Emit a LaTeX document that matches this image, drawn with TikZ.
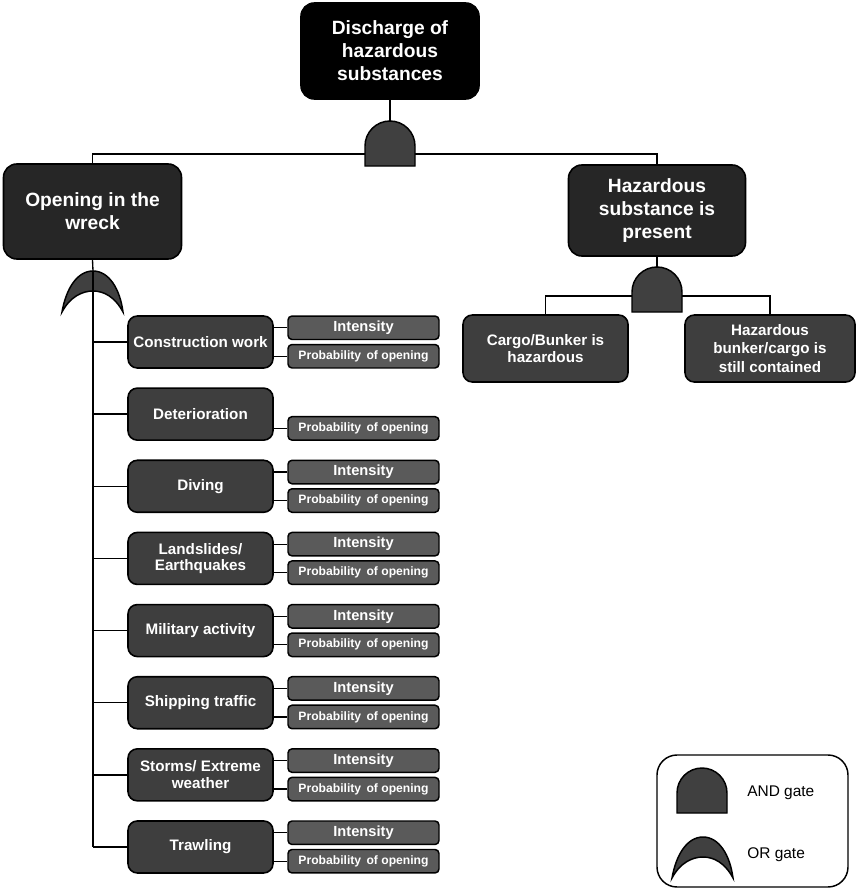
\documentclass[tikz,border=0pt]{standalone}
\usepackage{fontspec}
\setmainfont{Liberation Sans}
\begin{document}
\begin{tikzpicture}[x=0.75pt,y=-0.75pt,
  conn/.style={draw=black,line width=1pt},
  bigbox/.style={draw=black,line width=1.2pt,rounded corners=10pt,text=white,align=center,inner sep=0pt,
     font=\bfseries\fontsize{14.4}{17.25}\selectfont},
  midbox/.style={draw=black,line width=1.2pt,fill=midgray,rounded corners=7pt,text=white,align=center,inner sep=0pt,
     font=\bfseries\fontsize{11.4}{13}\selectfont},
  colbox/.style={midbox,minimum width=108.75pt,minimum height=39pt},
  subbox/.style={draw=black,line width=1.1pt,fill=lightgray2,rounded corners=3pt,text=white,inner sep=0pt,
     minimum width=113.25pt,minimum height=17.6pt},
  intbox/.style={subbox,font=\bfseries\fontsize{11}{12}\selectfont},
  probbox/.style={subbox,font=\bfseries\fontsize{9.1}{10}\selectfont},
  gatefill/.style={draw=black,line width=1.1pt,fill=gatecol},
  andgate/.pic={\path[gatefill] (-25,45) -- (-25,25) arc[start angle=180,end angle=0,radius=18.75pt] -- (25,45) -- cycle;},
  orgate/.pic={\path[gatefill] (-31,41) .. controls (-27,18) and (-16,0) .. (0,0) .. controls (16,0) and (27,18) .. (30,41)
      .. controls (22,26) and (11,20) .. (0,20) .. controls (-11,20) and (-23,26) .. (-31,41) -- cycle;}
]
\definecolor{midgray}{HTML}{3E3E3E}
\definecolor{lightgray2}{HTML}{5A5A5A}
\definecolor{gatecol}{HTML}{404040}
\definecolor{darkbox}{HTML}{262626}
\useasboundingbox (0,0) rectangle (856,892);

% top level
\node[bigbox,fill=black,minimum width=133.5pt,minimum height=72pt] (top) at (390,51) {Discharge of\\hazardous\\substances};
\node[bigbox,fill=darkbox,minimum width=133.5pt,minimum height=71.25pt] (open) at (92.5,211.5) {Opening in the\\wreck};
\node[bigbox,fill=darkbox,minimum width=132.75pt,minimum height=68.25pt] (haz) at (657,210.5) {Hazardous\\substance is\\present};
\node[midbox,minimum width=123.75pt,minimum height=50.25pt] (cargo) at (545.5,348.5) {Cargo/Bunker is\\hazardous};
\node[midbox,minimum width=127.5pt,minimum height=50.25pt,font=\bfseries\fontsize{11.4}{14}\selectfont] (bunk) at (770,348.5) {Hazardous\\bunker/cargo is\\still contained};

\coordinate (g1) at (390,121);
\coordinate (bus1) at (390,154);
\coordinate (g2) at (657,267);
\coordinate (bus2) at (657,296);
\coordinate (or1) at (93,271);

\draw[conn] (top.south) -- (g1);
\draw[conn] (open.north) |- (bus1) -| (haz.north);
\draw[conn] (haz.south) -- (g2);
\draw[conn] (cargo.north) |- (bus2) -| (bunk.north);
\draw[conn] (open.south) -- (or1);
\pic at (g1) {andgate};
\pic at (g2) {andgate};
\pic at (or1) {orgate};

% left column
\foreach \i/\name/\txt/\hasint/\ls in {0/cw/Construction work/1/13,1/det/Deterioration/0/13,2/div/Diving/1/13,
   3/land/{Landslides/\\Earthquakes}/1/12,4/mil/Military activity/1/13,5/ship/Shipping traffic/1/13,
   6/storm/{Storms/ Extreme\\weather}/1/13,7/trawl/Trawling/1/13}{
  \pgfmathsetmacro{\ty}{316+72.14*\i}
  \node[colbox,font=\bfseries\fontsize{11.4}{\ls}\selectfont] (\name) at (200.5,\ty+26) {\txt};
  \node[probbox] (\name p) at (363.5,\ty+40.25) {Probability\, of opening};
  \draw[conn] (\name.east |- \name p.west) -- (\name p.west);
  \ifnum\hasint=1
    \node[intbox] (\name i) at (363.5,\ty+11.75) {Intensity};
    \draw[conn] (\name.east |- \name i.west) -- (\name i.west);
  \fi
  \draw[conn] (\name.west -| or1) -- (\name.west);
}
\draw[conn] (or1) -- (trawl.west -| or1);

% legend
\node[draw=black,line width=1.1pt,rounded corners=15pt,minimum width=143.25pt,minimum height=99pt,inner sep=0pt] (leg) at (752.5,821) {};
\coordinate (lga) at (702,768);
\coordinate (lgo) at (703,837);
\pic at (lga) {andgate};
\pic at (lgo) {orgate};
\node[anchor=west,font=\fontsize{11.6}{13}\selectfont,inner sep=0pt] (andl) at (747,793) {AND gate};
\node[anchor=west,font=\fontsize{11.6}{13}\selectfont,inner sep=0pt] (orl) at (747,855) {OR gate};
\end{tikzpicture}
\end{document}
